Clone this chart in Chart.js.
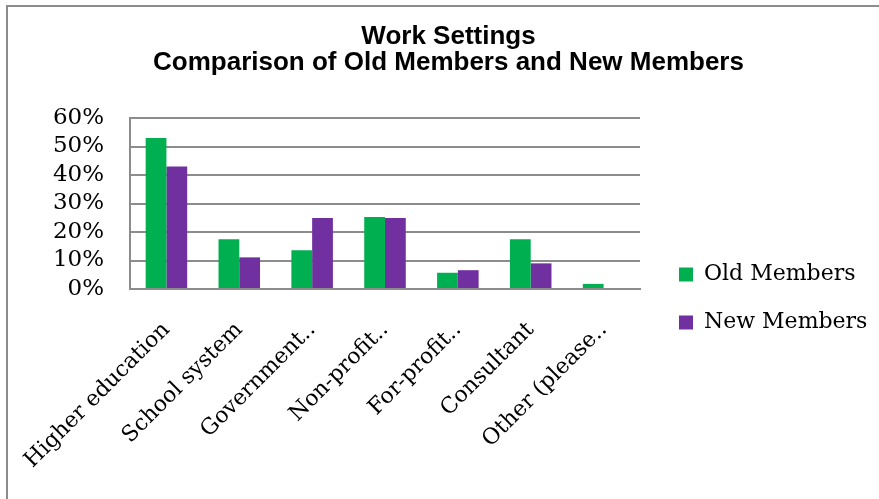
<!DOCTYPE html>
<html>
<head>
<meta charset="utf-8">
<script src="https://cdn.jsdelivr.net/npm/chart.js@4"></script>
<style>
    html, body { margin: 0; padding: 0; background: #fff; }
    #wrap { position: relative; width: 879px; height: 499px; }
</style>
</head>
<body>
<div id="wrap"><canvas id="workChart" width="879" height="499"></canvas></div>
<script>
// Data
const categories = ['Higher education', 'School system', 'Government..', 'Non-profit..', 'For-profit..', 'Consultant', 'Other (please..'];
const oldMembers = [53, 17.5, 13.6, 25.3, 5.7, 17.5, 1.8];
const newMembers = [43, 11.1, 24.9, 24.9, 6.6, 9.0, 0];
const yTicks = [0, 10, 20, 30, 40, 50, 60];

const serif = '"DejaVu Serif", serif';

// outer frame (top and left edge like the original picture)
const framePlugin = {
    id: 'frame',
    afterDraw: function(chart) {
        const ctx = chart.ctx;
        ctx.save();
        ctx.strokeStyle = '#8c8c8c';
        ctx.lineWidth = 2;
        ctx.beginPath();
        ctx.moveTo(7, 499);
        ctx.lineTo(7, 6);
        ctx.lineTo(879, 6);
        ctx.stroke();
        ctx.restore();
    }
};

// nudge the legend box a bit right and down, the way Excel placed it
// (the legend clips to its own box, so widen it up to the canvas edge)
// and center the title over the whole picture instead of the padded box
const boxShift = {
    id: 'boxShift',
    afterLayout: function(chart) {
        const lg = chart.legend;
        lg.left += 13;
        lg.right = chart.width;
        lg.width = lg.right - lg.left;
        lg.top += 37;
        lg.bottom += 37;

        const tt = chart.titleBlock;
        tt.left += 37;
        tt.width = tt.right - tt.left;
    }
};

const ctx = document.getElementById('workChart').getContext('2d');
const workChart = new Chart(ctx, {
    type: 'bar',
    data: {
        labels: categories,
        datasets: [{
            label: 'Old Members',
            data: oldMembers,
            backgroundColor: '#00af50',
            borderWidth: 0
        }, {
            label: 'New Members',
            data: newMembers,
            backgroundColor: '#7030a0',
            borderWidth: 0
        }]
    },
    options: {
        responsive: false,
        animation: false,
        layout: {
            padding: { left: 10, top: 24, right: 29, bottom: 0 }
        },
        datasets: {
            bar: {
                categoryPercentage: 0.57,
                barPercentage: 1.0
            }
        },
        plugins: {
            title: {
                display: true,
                text: ['Work Settings', 'Comparison of Old Members and New Members'],
                color: '#000',
                font: { family: '"Liberation Sans", Arial, sans-serif', size: 26, weight: 'bold', lineHeight: 1.0 },
                padding: { top: 0, bottom: 42 }
            },
            legend: {
                position: 'right',
                labels: {
                    color: '#000',
                    font: { family: serif, size: 22 },
                    boxWidth: 14,
                    boxHeight: 14,
                    padding: 26
                }
            },
            tooltip: { enabled: false }
        },
        scales: {
            x: {
                grid: { display: false, drawTicks: false },
                border: { color: '#8c8c8c', width: 2 },
                ticks: {
                    color: '#000',
                    font: { family: serif, size: 22 },
                    minRotation: 45,
                    maxRotation: 45,
                    autoSkip: false,
                    padding: 28
                },
                afterFit: function(scale) {
                    scale.height = 499 - 289;
                    // rotated labels may hang past the left edge, like in the original
                    scale.paddingLeft = 0;
                    scale.paddingRight = 0;
                }
            },
            y: {
                min: 0,
                max: 60,
                grid: { color: '#8c8c8c', lineWidth: 2, drawTicks: false },
                border: { color: '#8c8c8c', width: 2 },
                afterBuildTicks: function(scale) {
                    scale.ticks = yTicks.map(function(v) { return { value: v }; });
                },
                ticks: {
                    color: '#000',
                    font: { family: serif, size: 23 },
                    padding: 26,
                    autoSkip: false,
                    callback: function(value) {
                        return value + '%';
                    }
                },
                afterFit: function(scale) {
                    scale.width = 120;
                }
            }
        }
    },
    plugins: [framePlugin, boxShift]
});
</script>
</body>
</html>
